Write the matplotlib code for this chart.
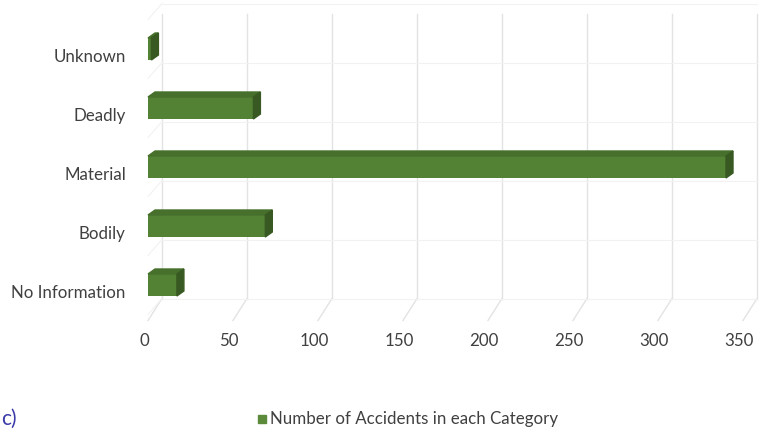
import matplotlib.pyplot as plt
import matplotlib.transforms as mtransforms
from matplotlib.patches import Polygon

plt.rcParams['font.family'] = ['Lato', 'DejaVu Sans']

categories = ['No Information', 'Bodily', 'Material', 'Deadly', 'Unknown']
counts = [17, 69, 340, 62, 2]
x_ticks = [0, 50, 100, 150, 200, 250, 300, 350]
legend_label = 'Number of Accidents in each Category'

front = '#548235'
top = '#46702b'
side = '#385a22'
grid = '#e3e3e3'

W, H = 759, 432
fig = plt.figure(figsize=(W / 100, H / 100), dpi=100)
ax = fig.add_axes([148 / W, 117.5 / H, (743 - 148) / W, 295 / H])
ax.set_xlim(0, 350)
ax.set_ylim(-0.5, 4.5)

px_x = 350 / (743 - 148)   # data units per pixel in x
px_y = 5 / 295             # data units per pixel in y

# back wall / floor offsets
wall_dx = 14 * px_x
wall_dy = 16 * px_y
for t in x_ticks:
    ax.plot([t + wall_dx, t + wall_dx], [-0.5 + wall_dy, 4.5 + 0.1], color=grid, lw=1,
            clip_on=False, zorder=0)
    ax.plot([t, t + wall_dx], [-0.5 - 6 * px_y, -0.5 + wall_dy], color=grid, lw=1,
            clip_on=False, zorder=0)
for k in range(6):
    yb = k - 0.5 + wall_dy
    ax.plot([wall_dx, 350 + wall_dx], [yb, yb], color='#f2f2f2', lw=0.8,
            clip_on=False, zorder=0)
    ax.plot([0, wall_dx], [k - 0.5, yb], color='#f2f2f2', lw=0.8,
            clip_on=False, zorder=0)

# bars with a shallow 3D look
bh = 22 * px_y
ddx = 7 * px_x
ddy = 5 * px_y
ypos = list(range(len(categories)))
ax.barh(ypos, counts, height=bh, color=front, zorder=3)
for y, v in zip(ypos, counts):
    y0, y1 = y - bh / 2, y + bh / 2
    ax.add_patch(Polygon([(0, y1), (v, y1), (v + ddx, y1 + ddy), (ddx, y1 + ddy)],
                         closed=True, color=top, zorder=3, clip_on=False))
    ax.add_patch(Polygon([(v, y0), (v + ddx, y0 + ddy), (v + ddx, y1 + ddy), (v, y1)],
                         closed=True, color=side, zorder=3, clip_on=False))

ax.set_yticks(ypos)
ax.set_yticklabels(categories, fontsize=12.2, color='#404040')
ax.set_xticks(x_ticks)
ax.set_xticklabels([str(t) for t in x_ticks], fontsize=12.2, color='#404040')
ax.tick_params(length=0)
ax.tick_params(axis='x', pad=13)
ax.tick_params(axis='y', pad=16)
shift = mtransforms.ScaledTranslation(0, -6 / 100, fig.dpi_scale_trans)
for lab in ax.get_yticklabels():
    lab.set_transform(lab.get_transform() + shift)
shift_x = mtransforms.ScaledTranslation(-4 / 100, 0, fig.dpi_scale_trans)
for lab in ax.get_xticklabels():
    lab.set_transform(lab.get_transform() + shift_x)
for s in ax.spines.values():
    s.set_visible(False)

# legend
fig.patches.append(plt.Rectangle((258 / W, 1 - 423 / H), 8 / W, 8 / H,
                                 transform=fig.transFigure, color='#5a8a3a'))
fig.text(270 / W, 1 - 419 / H, legend_label, fontsize=12.2, color='#404040', va='center')
fig.text(1 / W, 1 - 419 / H, 'c)', fontsize=15, color='#3a3aa8', va='center')

fig.savefig('out.png', dpi=100)
